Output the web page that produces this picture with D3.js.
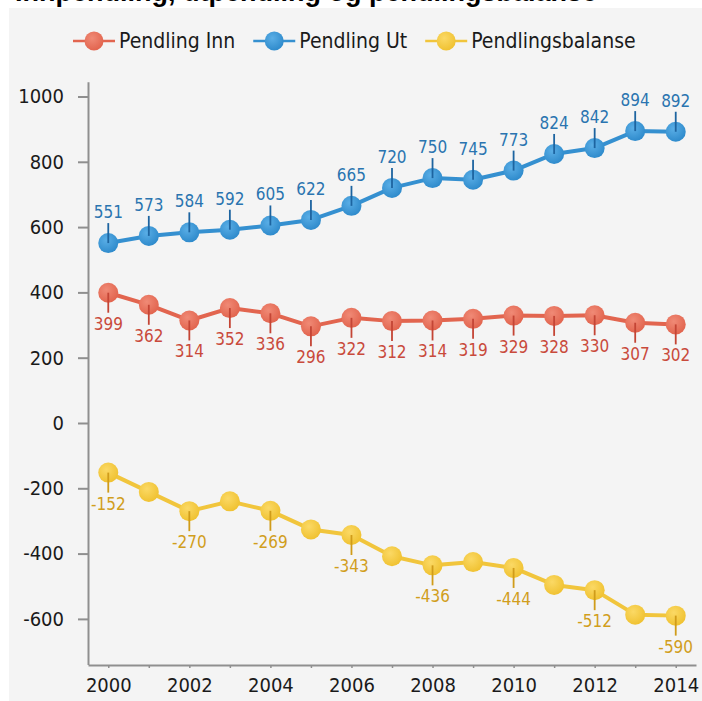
<!DOCTYPE html>
<html>
<head>
<meta charset="utf-8">
<script src="https://cdn.jsdelivr.net/npm/d3@7"></script>
<style>
  html, body { margin: 0; padding: 0; background: #ffffff; }
  svg { display: block; }
  .cond { font-family: "DejaVu Sans Condensed", "DejaVu Sans", sans-serif; font-stretch: condensed; }
</style>
</head>
<body>
<svg id="chart" width="702" height="701"></svg>
<script>
// ---- data ----
const years = [2000, 2001, 2002, 2003, 2004, 2005, 2006, 2007, 2008, 2009, 2010, 2011, 2012, 2013, 2014];
const pendlingInn = [399, 362, 314, 352, 336, 296, 322, 312, 314, 319, 329, 328, 330, 307, 302];
const pendlingUt = [551, 573, 584, 592, 605, 622, 665, 720, 750, 745, 773, 824, 842, 894, 892];
const pendlingsbalanse = [-152, -211, -270, -240, -269, -326, -343, -408, -436, -426, -444, -496, -512, -587, -590];
const seriesNames = ["Pendling Inn", "Pendling Ut", "Pendlingsbalanse"];
const yTicks = [-600, -400, -200, 0, 200, 400, 600, 800, 1000];
const xTickLabels = [2000, 2002, 2004, 2006, 2008, 2010, 2012, 2014];
const titleText = "Innpendling, utpendling og pendlingsbalanse";

// ---- styles ----
const styles = [
  { values: pendlingInn, marker: "#e2654f", light: "#f08a76", line: "#e2654f", text: "#c94a3b", leader: "#c44535", pos: "below", every: 1 },
  { values: pendlingUt, marker: "#2f8bcc", light: "#5aaee6", line: "#3590d0", text: "#2a74b0", leader: "#1d64a0", pos: "above", every: 1 },
  { values: pendlingsbalanse, marker: "#f0c232", light: "#fbd965", line: "#f1c53c", text: "#d19e1c", leader: "#d09c1a", pos: "below", every: 2 }
];

const svg = d3.select("#chart");

// background panel
svg.append("rect").attr("x", 9).attr("y", 8).attr("width", 693).attr("height", 693).attr("fill", "#f4f4f4");

// title (cut off at top, as in the reference)
svg.append("text").attr("x", 15).attr("y", 1)
  .attr("font-family", "Liberation Sans, Arial, sans-serif").attr("font-weight", "bold")
  .attr("font-size", 27).attr("fill", "#000").text(titleText);

// gradients
const defs = svg.append("defs");
styles.forEach((s, i) => {
  const g = defs.append("radialGradient").attr("id", "grad" + i)
    .attr("cx", "40%").attr("cy", "35%").attr("r", "65%");
  g.append("stop").attr("offset", "0%").attr("stop-color", s.light);
  g.append("stop").attr("offset", "100%").attr("stop-color", s.marker);
});

// scales
const x = d3.scaleLinear().domain([1999.5, 2014.5]).range([88, 696]);
const y = d3.scaleLinear().domain([-740, 1045]).range([664.6, 81.8]);

// y axis
const yAxis = svg.append("g").attr("transform", "translate(88,0)")
  .call(d3.axisLeft(y).tickValues(yTicks).tickSize(10).tickPadding(14).tickSizeOuter(0)
    .tickFormat(d => String(d)));
yAxis.select(".domain").attr("stroke", "#8f8f8f").attr("stroke-width", 2);
yAxis.selectAll(".tick line").attr("stroke", "#8f8f8f").attr("stroke-width", 2);
yAxis.selectAll(".tick text").attr("class", "cond").attr("font-size", 20).attr("fill", "#1a1a1a");

// x axis
const xAxis = svg.append("g").attr("transform", "translate(0,665)")
  .call(d3.axisBottom(x).tickValues(years).tickSize(3).tickPadding(10).tickSizeOuter(0)
    .tickFormat(d => xTickLabels.includes(d) ? String(d) : ""));
xAxis.select(".domain").attr("stroke", "#8f8f8f").attr("stroke-width", 2);
xAxis.selectAll(".tick line").attr("stroke", "#8f8f8f").attr("stroke-width", 1.5);
xAxis.selectAll(".tick text").attr("class", "cond").attr("font-size", 20).attr("fill", "#1a1a1a");

// series
const line = d3.line().x((d, i) => x(years[i])).y(d => y(d));
styles.forEach((s, si) => {
  const g = svg.append("g");
  g.append("path").datum(s.values).attr("d", line)
    .attr("fill", "none").attr("stroke", s.line).attr("stroke-width", 4).attr("stroke-linejoin", "round");
  g.selectAll("circle").data(s.values).join("circle")
    .attr("cx", (d, i) => x(years[i])).attr("cy", d => y(d)).attr("r", 10)
    .attr("fill", "url(#grad" + si + ")");
  const labeled = s.values.map((v, i) => ({ v, i })).filter(o => o.i % s.every === 0);
  const dir = s.pos === "above" ? -1 : 1;
  g.selectAll("line.leader").data(labeled).join("line").attr("class", "leader")
    .attr("x1", o => x(years[o.i])).attr("x2", o => x(years[o.i]))
    .attr("y1", o => y(o.v)).attr("y2", o => y(o.v) + dir * 20)
    .attr("stroke", s.leader).attr("stroke-width", 1.8);
  g.selectAll("text.lbl").data(labeled).join("text").attr("class", "lbl cond")
    .attr("x", o => x(years[o.i]))
    .attr("y", o => y(o.v) + (dir < 0 ? -25 : 37))
    .attr("text-anchor", "middle").attr("font-size", 17).attr("fill", s.text)
    .text(o => String(o.v));
});

// legend
const legend = svg.append("g");
let lx = 73;
const ly = 41;
seriesNames.forEach((name, i) => {
  const s = styles[i];
  legend.append("line").attr("x1", lx).attr("x2", lx + 42).attr("y1", ly).attr("y2", ly)
    .attr("stroke", s.line).attr("stroke-width", 2.5);
  legend.append("circle").attr("cx", lx + 21).attr("cy", ly).attr("r", 9.5).attr("fill", "url(#grad" + i + ")");
  const t = legend.append("text").attr("class", "cond").attr("x", lx + 46).attr("y", ly + 7)
    .attr("font-size", 21).attr("fill", "#1a1a1a").text(name);
  lx = lx + 46 + t.node().getComputedTextLength() + 18;
});
</script>
</body>
</html>
